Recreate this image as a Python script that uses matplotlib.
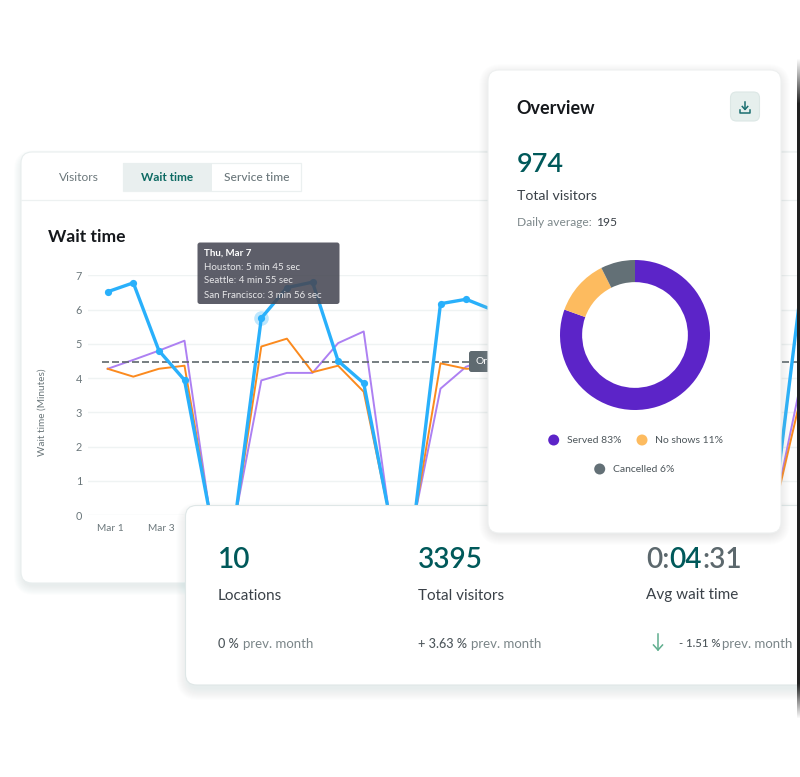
import numpy as np
import matplotlib
matplotlib.use("Agg")
import matplotlib.pyplot as plt
from matplotlib.patches import FancyBboxPatch, Rectangle, Circle
from matplotlib.transforms import ScaledTranslation

nan = float("nan")
# ---- data (index = day of March - 1; NaN = hidden behind the cards)
houston = [6.52, 6.78, 4.80, 3.94, 0, 0, 5.75, 6.64, 6.80, 4.50, 3.85, 0, 0, 6.17, 6.30, 6.00,
           nan, nan, nan, nan, nan, nan, nan, nan, nan, nan, 0, 6.1]
seattle = [4.27, 4.04, 4.27, 4.36, 0, 0, 4.92, 5.15, 4.17, 4.36, 3.60, 0, 0, 4.43, 4.27, 4.30,
           nan, nan, nan, nan, nan, nan, nan, nan, nan, nan, 0, 3.2]
san_francisco = [4.27, 4.53, 4.80, 5.09, 0, 0, 3.93, 4.15, 4.15, 5.02, 5.36, 0, 0, 3.69, 4.33, 4.60,
                 nan, nan, nan, nan, nan, nan, nan, nan, nan, nan, 0, 3.6]
average_wait = 4.48
highlight_day = 6
y_ticks = [0, 1, 2, 3, 4, 5, 6, 7]
x_tick_days = [0, 2]
x_tick_labels = ["Mar 1", "Mar 3"]
tabs = ["Visitors", "Wait time", "Service time"]
tooltip_lines = ["Houston: 5 min 45 sec", "Seattle: 4 min 55 sec", "San Francisco: 3 min 56 sec"]
donut_shares = [80.5, 12.1, 7.4]
donut_colors = ["#5c24c8", "#fdbb5f", "#637076"]
legend_labels = ["Served 83%", "No shows 11%", "Cancelled 6%"]

BLUE, ORANGE, PURPLE = "#29b0fb", "#fb8a1e", "#ad80f2"
TEAL, GRAY, DARK = "#00595a", "#6b777b", "#3a4148"
plt.rcParams["font.family"] = ["Lato", "DejaVu Sans"]

W, H = 800, 777
fig = plt.figure(figsize=(W / 100, H / 100), dpi=100, facecolor="white")


def layer(z):
    a = fig.add_axes([0, 0, 1, 1], zorder=z)
    a.set_xlim(0, W)
    a.set_ylim(H, 0)
    a.axis("off")
    a.patch.set_alpha(0)
    return a


def px_rect(x0, y0, x1, y1):
    return [x0 / W, 1 - y1 / H, (x1 - x0) / W, (y1 - y0) / H]


def card(a, x0, y0, x1, y1, r=11, shadow="#b9d0d0", dy=5, spread=10, strength=0.03, ec="#e4ebeb"):
    for i in range(spread, 0, -1):
        inset = 3
        a.add_patch(FancyBboxPatch((x0 - i + inset, y0 - i + dy + inset),
                                   x1 - x0 + 2 * (i - inset), y1 - y0 + 2 * (i - inset),
                                   boxstyle=f"round,pad=0,rounding_size={r + i}", fc=shadow,
                                   ec="none", alpha=strength))
    a.add_patch(FancyBboxPatch((x0, y0), x1 - x0, y1 - y0, boxstyle=f"round,pad=0,rounding_size={r}",
                               fc="white", ec=ec, lw=0.8))


def T(a, x, y, s, px=12, color=DARK, weight=400, ha="left", **kw):
    return a.text(x, y, s, fontsize=px * 0.72, color=color, fontweight=weight, ha=ha, va="center", **kw)


def run(a, x, y, parts, px):
    """Lay out coloured pieces of text one after another."""
    r = fig.canvas.get_renderer()
    for s, c, w in parts:
        t = T(a, x, y, s, px, c, w)
        x += t.get_window_extent(r).width
    return x


# ---- back layer: chart card
base = layer(1)
card(base, 21, 152, 830, 583, ec="#e8eeee")
base.plot([21, 797], [199.5, 199.5], color="#edf1f1", lw=0.9)
base.add_patch(Rectangle((123, 163), 177.5, 27.5, fc="white", ec="#ebf0f0", lw=0.9))
base.add_patch(Rectangle((123, 163), 89, 27.5, fc="#e9efef", ec="none"))
T(base, 78.5, 177.3, tabs[0], 12, GRAY, ha="center")
T(base, 167.5, 177.3, tabs[1], 11.8, "#0d6a63", 700, ha="center")
T(base, 256.5, 177.3, tabs[2], 12, GRAY, 500, ha="center")
T(base, 48, 237, "Wait time", 17.5, "#15181c", 700)

# ---- chart
X0, DX = 107.7, 25.6
left, right = 88, 797
ax = fig.add_axes(px_rect(left, 275.3, right, 515), zorder=2)
ax.patch.set_alpha(0)
ax.set_xlim((left - X0) / DX, (right - X0) / DX)
ax.set_ylim(0, 7)
for s in ax.spines.values():
    s.set_visible(False)
ax.set_yticks(y_ticks)
ax.set_xticks(x_tick_days, x_tick_labels)
ax.tick_params(length=0, labelcolor=GRAY)
ax.tick_params(axis="y", pad=4.3, labelsize=7.8)
ax.tick_params(axis="x", pad=6.5, labelsize=7.3)
shift = ScaledTranslation(2.5 / 100, 0, fig.dpi_scale_trans)
for lab in ax.get_xticklabels():
    lab.set_transform(lab.get_transform() + shift)
ax.grid(axis="y", color="#eff3f3", lw=1)
ax.grid(axis="x", visible=False)
ax.set_axisbelow(True)
ax.set_ylabel("Wait time (Minutes)", fontsize=7.2, color=GRAY)
ax.yaxis.set_label_coords((46.5 - left) / (right - left), (515 - 411.7) / 239.7)
days = np.arange(len(houston))
ax.plot(days, san_francisco, color=PURPLE, lw=1.4, clip_on=False, zorder=3)
ax.plot(days, seattle, color=ORANGE, lw=1.4, clip_on=False, zorder=3)
ax.plot([(102 - X0) / DX, 40], [average_wait, average_wait], color="#5f686c", lw=1.2,
        ls=(0, (4.2, 1.8)), zorder=4)
ax.plot(days, houston, color=BLUE, lw=2.4, clip_on=False, zorder=5)
h = np.array(houston)
mask = np.nan_to_num(h) > 0
ax.plot(days[mask][:-1], h[mask][:-1], ls="none", marker="o", ms=5.2, color=BLUE, mew=0, clip_on=False, zorder=6)
ax.plot([highlight_day], [houston[highlight_day]], ls="none", marker="o", ms=10.5, color=BLUE,
        alpha=0.3, mew=0, clip_on=False, zorder=5)

# ---- front layer: tooltip, cards, text
top = layer(3)
top.add_patch(FancyBboxPatch((197.5, 242.5), 142, 61.5, boxstyle="round,pad=0,rounding_size=2.5",
                             fc="#474854", ec="none", alpha=0.88, zorder=1))
T(top, 204.5, 252.8, "Thu, Mar 7", 9.8, "white", 700, zorder=2)
for yy, s in zip([267.5, 280.5, 295], tooltip_lines):
    T(top, 204.5, yy, s, 9.75, "#e8e8ea", zorder=2)
top.add_patch(FancyBboxPatch((469, 351), 40, 21, boxstyle="round,pad=0,rounding_size=2.5",
                             fc="#5f6a70", ec="none", zorder=1))
T(top, 476, 361.5, "Or", 10.2, "white", zorder=2)

card(top, 185.5, 505.5, 830, 685, r=11, dy=6, spread=12, strength=0.026, ec="#dfe7e7")
card(top, 488, 70, 781, 533, r=11, shadow="#a9b2b2", dy=3, spread=12, strength=0.018, ec="#eef0f0")

# overview text
T(top, 516.5, 108.5, "Overview", 18, "#15181c", 700)
T(top, 517, 164, "974", 27, TEAL, 600)
T(top, 517, 196, "Total visitors", 14.1, DARK)
T(top, 517, 222, "Daily average:", 12, "#7d888b")
T(top, 597, 222, "195", 12, DARK)
top.add_patch(FancyBboxPatch((730.5, 92), 29, 29, boxstyle="round,pad=0,rounding_size=6",
                             fc="#e6efed", ec="#dce7e5", lw=0.8))
ic = "#1b6f70"
top.plot([745, 745], [101.5, 109], color=ic, lw=1.1)
top.plot([742.3, 745, 747.7], [106.5, 109.5, 106.5], color=ic, lw=1.1)
top.plot([740, 740, 750, 750], [109.5, 112.5, 112.5, 109.5], color=ic, lw=1.1)

# legend of the donut
legend_pos = [(553.7, 440), (642, 440), (599.7, 469)]
for (lx, ly), c, s in zip(legend_pos, donut_colors, legend_labels):
    top.add_patch(Circle((lx, ly), 5.5, fc=c, ec="none"))
    T(top, lx + 13, ly + 0.5, s, 10.35, "#4d565b")

# KPI card
for x, num, lab in [(218, "10", "Locations"), (418, "3395", "Total visitors")]:
    T(top, x, 560, num, 28, TEAL, 600)
    T(top, x, 595.5, lab, 15.2, DARK)
run(top, 646, 560, [("0:", "#5c686d", 600), ("04", TEAL, 600), (":31", "#5c686d", 600)], 28)
T(top, 646, 595.5, "Avg wait time", 15.2, DARK)
for x, bold_part, bold_px, prev_x in [(218, "0 %", 12.6, 243), (418, "+ 3.63 %", 12.6, 471),
                                      (679, "- 1.51 %", 11.2, 721.5)]:
    T(top, x, 643.5, bold_part, bold_px, "#4d565b", 500)
    T(top, prev_x, 643.5, "prev. month", 13.2, "#7b8689")
top.plot([658, 658], [634, 650], color="#5fae8e", lw=1.1)
top.plot([653.5, 658, 662.5], [645, 650, 645], color="#5fae8e", lw=1.1)

# dark strip on the right edge, fading at both ends
ys = np.arange(777.0)
alpha = np.clip((ys - 58) / 45, 0, 1) * np.clip((718 - ys) / 35, 0, 1)
rgba = np.zeros((777, 1, 4))
rgba[..., :3] = 0.13
rgba[:, 0, 3] = alpha
top.imshow(rgba, extent=(797, 800, H, 0), aspect="auto", zorder=20)
top.set_xlim(0, W)
top.set_ylim(H, 0)

# ---- donut
dx = fig.add_axes(px_rect(635 - 75, 335 - 75, 635 + 75, 335 + 75), zorder=4)
dx.pie(donut_shares, colors=donut_colors, startangle=90, counterclock=False, radius=1,
       wedgeprops=dict(width=0.295, edgecolor="none"))
dx.set_xlim(-1, 1)
dx.set_ylim(-1, 1)

fig.savefig("out.png", dpi=100, facecolor="white")
